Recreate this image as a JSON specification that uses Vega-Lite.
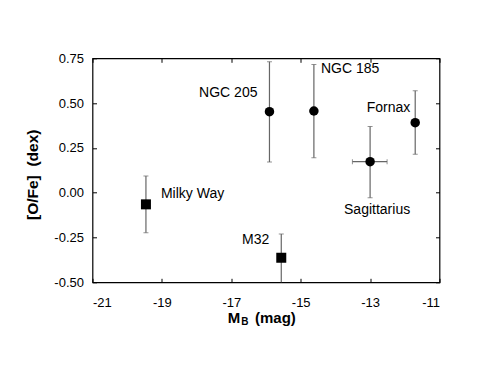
{
  "$schema": "https://vega.github.io/schema/vega-lite/v6.json",
  "width": 347,
  "height": 224,
  "autosize": "none",
  "padding": {"left": 92.5, "top": 58.3, "right": 51.5, "bottom": 92.7},
  "config": {
    "font": "Liberation Sans",
    "view": {"stroke": "#000000", "strokeWidth": 1.2},
    "axis": {
      "domain": false,
      "grid": false,
      "tickColor": "#000000",
      "tickWidth": 1,
      "tickSize": -4,
      "labelFont": "Liberation Sans",
      "labelFontSize": 13,
      "labelColor": "#000000",
      "titleFont": "Liberation Sans",
      "titleColor": "#000000",
      "titleFontWeight": "bold",
      "titleFontSize": 15
    },
    "text": {"font": "Liberation Sans", "fontSize": 14, "color": "#000000"}
  },
  "data": {
    "values": [
      {"name": "Milky Way", "group": "MW/M32", "mb": -19.46, "ofe": -0.065, "ofe_lo": -0.223, "ofe_hi": 0.093},
      {"name": "M32", "group": "MW/M32", "mb": -15.56, "ofe": -0.363, "ofe_lo": -0.53, "ofe_hi": -0.230},
      {"name": "NGC 205", "group": "dwarf", "mb": -15.9, "ofe": 0.452, "ofe_lo": 0.171, "ofe_hi": 0.731},
      {"name": "NGC 185", "group": "dwarf", "mb": -14.62, "ofe": 0.456, "ofe_lo": 0.195, "ofe_hi": 0.716},
      {"name": "Sagittarius", "group": "dwarf", "mb": -13.0, "ofe": 0.173, "ofe_lo": -0.028, "ofe_hi": 0.370, "mb_lo": -13.51, "mb_hi": -12.51},
      {"name": "Fornax", "group": "dwarf", "mb": -11.7, "ofe": 0.391, "ofe_lo": 0.214, "ofe_hi": 0.569}
    ]
  },
  "resolve": {"axis": {"x": "independent", "y": "independent"}},
  "layer": [
    {
      "mark": {"type": "rule", "color": "#666666", "strokeWidth": 1.2, "clip": true},
      "encoding": {
        "x": {"field": "mb", "type": "quantitative", "scale": {"domain": [-21, -11], "nice": false, "zero": false},
          "axis": {"orient": "bottom", "values": [-21, -19, -17, -15, -13, -11], "labelPadding": 18,
            "labelExpr": "replace(datum.label, '\u2212', '-')",
            "title": "M", "titleAlign": "left", "titleBaseline": "alphabetic", "titleX": 134.8, "titleY": 40.4}},
        "y": {"field": "ofe_lo", "type": "quantitative", "scale": {"domain": [-0.5, 0.75], "nice": false, "zero": false},
          "axis": {"orient": "left", "values": [-0.5, -0.25, 0, 0.25, 0.5, 0.75], "labelPadding": 13,
            "labelExpr": "replace(format(datum.value, '.2f'), '\u2212', '-')",
            "title": "[O/Fe]\u00a0\u00a0(dex)", "titleFontSize": 15.5, "titleAlign": "center", "titleBaseline": "middle", "titleAngle": -90, "titleX": -60.5, "titleY": 116}},
        "y2": {"field": "ofe_hi"}
      }
    },
    {
      "transform": [{"filter": "isValid(datum.mb_lo)"}],
      "mark": {"type": "rule", "color": "#666666", "strokeWidth": 1.2},
      "encoding": {
        "x": {"field": "mb_lo", "type": "quantitative", "scale": {"domain": [-21, -11], "nice": false, "zero": false}, "axis": null},
        "x2": {"field": "mb_hi"},
        "y": {"field": "ofe", "type": "quantitative", "scale": {"domain": [-0.5, 0.75], "nice": false, "zero": false}, "axis": null}
      }
    },
    {
      "mark": {"type": "tick", "orient": "horizontal", "size": 5, "thickness": 1, "color": "#666666", "clip": true},
      "encoding": {
        "x": {"field": "mb", "type": "quantitative", "scale": {"domain": [-21, -11], "nice": false, "zero": false}, "axis": null},
        "y": {"field": "ofe_lo", "type": "quantitative", "scale": {"domain": [-0.5, 0.75], "nice": false, "zero": false}, "axis": null}
      }
    },
    {
      "mark": {"type": "tick", "orient": "horizontal", "size": 5, "thickness": 1, "color": "#666666", "clip": true},
      "encoding": {
        "x": {"field": "mb", "type": "quantitative", "scale": {"domain": [-21, -11], "nice": false, "zero": false}, "axis": null},
        "y": {"field": "ofe_hi", "type": "quantitative", "scale": {"domain": [-0.5, 0.75], "nice": false, "zero": false}, "axis": null}
      }
    },
    {
      "transform": [{"filter": "isValid(datum.mb_lo)"}, {"fold": ["mb_lo", "mb_hi"], "as": ["end", "mbx"]}],
      "mark": {"type": "tick", "orient": "vertical", "size": 5, "thickness": 1, "color": "#666666"},
      "encoding": {
        "x": {"field": "mbx", "type": "quantitative", "scale": {"domain": [-21, -11], "nice": false, "zero": false}, "axis": null},
        "y": {"field": "ofe", "type": "quantitative", "scale": {"domain": [-0.5, 0.75], "nice": false, "zero": false}, "axis": null}
      }
    },
    {
      "mark": {"type": "point", "filled": true, "opacity": 1, "color": "#000000", "strokeWidth": 0},
      "encoding": {
        "x": {"field": "mb", "type": "quantitative", "scale": {"domain": [-21, -11], "nice": false, "zero": false}, "axis": null},
        "y": {"field": "ofe", "type": "quantitative", "scale": {"domain": [-0.5, 0.75], "nice": false, "zero": false}, "axis": null},
        "shape": {"field": "group", "type": "nominal", "scale": {"domain": ["MW/M32", "dwarf"], "range": ["square", "circle"]}, "legend": null},
        "size": {"field": "group", "type": "nominal", "scale": {"domain": ["MW/M32", "dwarf"], "range": [100, 90]}, "legend": null}
      }
    },
    {
      "mark": {"type": "point", "opacity": 0},
      "encoding": {
        "x": {"field": "mb", "type": "quantitative", "scale": {"domain": [-21, -11], "nice": false, "zero": false},
          "axis": {"orient": "top", "values": [-21, -19, -17, -15, -13, -11], "labels": false,
            "title": "B", "titleFontSize": 10, "titleAlign": "left", "titleBaseline": "alphabetic", "titleX": 148.2, "titleY": 265.7}},
        "y": {"field": "ofe", "type": "quantitative", "scale": {"domain": [-0.5, 0.75], "nice": false, "zero": false},
          "axis": {"orient": "right", "values": [-0.5, -0.25, 0, 0.25, 0.5, 0.75], "labels": false,
            "title": "(mag)", "titleAngle": 0, "titleAlign": "left", "titleBaseline": "alphabetic", "titleX": -185, "titleY": 264.4}}
      }
    },
    {
      "transform": [{"filter": "datum.name == 'NGC 205'"}],
      "mark": {"type": "text", "align": "right", "baseline": "middle", "dx": -12, "dy": -19},
      "encoding": {
        "x": {"field": "mb", "type": "quantitative", "scale": {"domain": [-21, -11], "nice": false, "zero": false}, "axis": null},
        "y": {"field": "ofe", "type": "quantitative", "scale": {"domain": [-0.5, 0.75], "nice": false, "zero": false}, "axis": null},
        "text": {"field": "name"}
      }
    },
    {
      "transform": [{"filter": "datum.name == 'NGC 185'"}],
      "mark": {"type": "text", "align": "left", "baseline": "middle", "dx": 7, "dy": -42},
      "encoding": {
        "x": {"field": "mb", "type": "quantitative", "scale": {"domain": [-21, -11], "nice": false, "zero": false}, "axis": null},
        "y": {"field": "ofe", "type": "quantitative", "scale": {"domain": [-0.5, 0.75], "nice": false, "zero": false}, "axis": null},
        "text": {"field": "name"}
      }
    },
    {
      "transform": [{"filter": "datum.name == 'Fornax'"}],
      "mark": {"type": "text", "align": "right", "baseline": "middle", "dx": -5, "dy": -15},
      "encoding": {
        "x": {"field": "mb", "type": "quantitative", "scale": {"domain": [-21, -11], "nice": false, "zero": false}, "axis": null},
        "y": {"field": "ofe", "type": "quantitative", "scale": {"domain": [-0.5, 0.75], "nice": false, "zero": false}, "axis": null},
        "text": {"field": "name"}
      }
    },
    {
      "transform": [{"filter": "datum.name == 'Sagittarius'"}],
      "mark": {"type": "text", "align": "center", "baseline": "middle", "dx": 7, "dy": 48},
      "encoding": {
        "x": {"field": "mb", "type": "quantitative", "scale": {"domain": [-21, -11], "nice": false, "zero": false}, "axis": null},
        "y": {"field": "ofe", "type": "quantitative", "scale": {"domain": [-0.5, 0.75], "nice": false, "zero": false}, "axis": null},
        "text": {"field": "name"}
      }
    },
    {
      "transform": [{"filter": "datum.name == 'Milky Way'"}],
      "mark": {"type": "text", "align": "left", "baseline": "middle", "dx": 15, "dy": -10},
      "encoding": {
        "x": {"field": "mb", "type": "quantitative", "scale": {"domain": [-21, -11], "nice": false, "zero": false}, "axis": null},
        "y": {"field": "ofe", "type": "quantitative", "scale": {"domain": [-0.5, 0.75], "nice": false, "zero": false}, "axis": null},
        "text": {"field": "name"}
      }
    },
    {
      "transform": [{"filter": "datum.name == 'M32'"}],
      "mark": {"type": "text", "align": "right", "baseline": "middle", "dx": -12, "dy": -18},
      "encoding": {
        "x": {"field": "mb", "type": "quantitative", "scale": {"domain": [-21, -11], "nice": false, "zero": false}, "axis": null},
        "y": {"field": "ofe", "type": "quantitative", "scale": {"domain": [-0.5, 0.75], "nice": false, "zero": false}, "axis": null},
        "text": {"field": "name"}
      }
    }
  ]
}
